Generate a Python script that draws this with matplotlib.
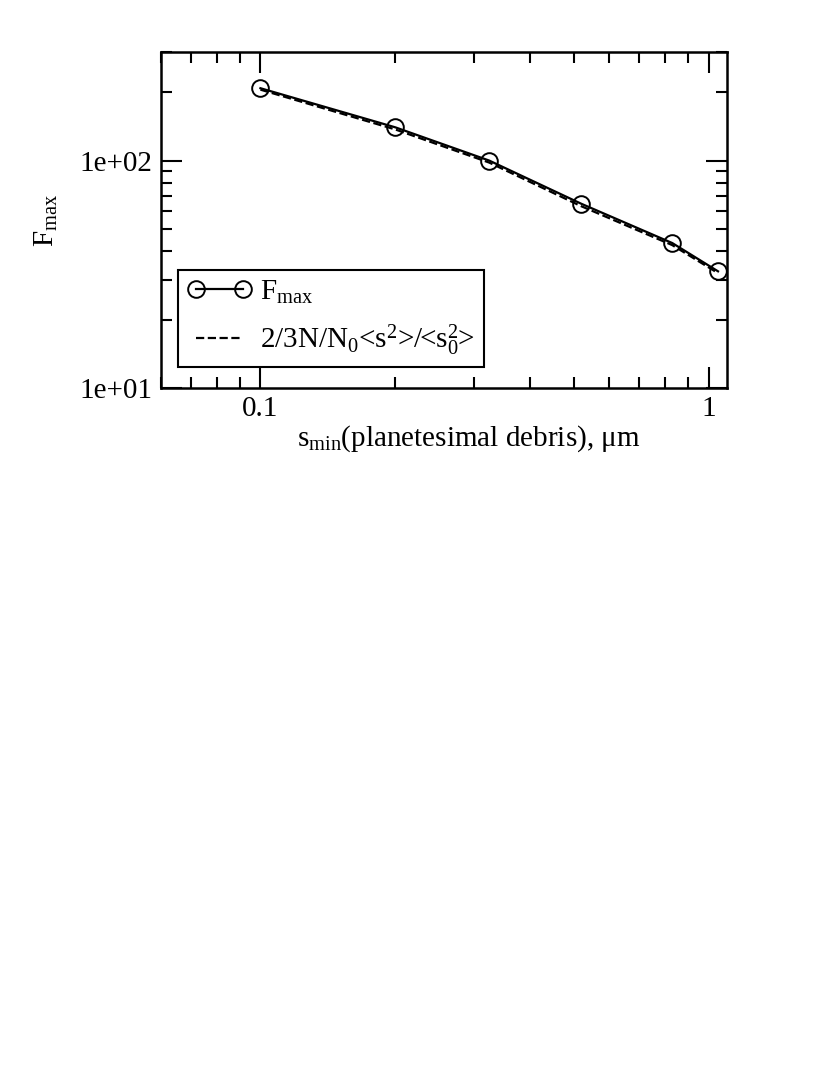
import matplotlib
matplotlib.use("Agg")
import matplotlib.pyplot as plt

plt.rcParams['font.family'] = ['Liberation Serif', 'DejaVu Serif']
plt.rcParams['mathtext.fontset'] = 'custom'
plt.rcParams['mathtext.rm'] = 'Liberation Serif'
plt.rcParams['mathtext.it'] = 'Liberation Serif:italic'

# data
s_min = [0.1, 0.2, 0.324, 0.52, 0.83, 1.05]
f_max = [208, 140, 100, 64.6, 43.4, 32.6]
f_est = [205, 137, 98, 63.0, 42.5, 32.0]

fig = plt.figure(figsize=(8.3, 10.75), dpi=100)
ax = fig.add_axes([0.194, 0.639, 0.682, 0.3126])

ax.plot(s_min, f_max, 'k-', lw=1.6, marker='o', ms=12, mfc='none', mec='k',
        mew=1.4, label=r'$\mathrm{F_{max}}$')
ax.plot(s_min, f_est, 'k--', lw=1.6,
        label=r'2/3N/N$_0$<s$^2$>/<s$_0^2$>')

ax.set_xscale('log')
ax.set_yscale('log')
ax.set_xlim(0.06, 1.1)
ax.set_ylim(10, 300)
ax.set_xticks([0.1, 1])
ax.set_xticklabels(['0.1', '1'])
ax.set_yticks([10, 100])
ax.set_yticklabels(['1e+01', '1e+02'])

ax.tick_params(which='both', direction='in', top=True, right=True,
               labelsize=21, width=1.5)
ax.tick_params(which='major', length=15, pad=6)
ax.tick_params(which='minor', length=8)
for sp in ax.spines.values():
    sp.set_linewidth(1.8)

ax.set_xlabel(r'$\mathrm{s_{min}}$(planetesimal debris), $\mathrm{\mu}$m', fontsize=21)
ax.xaxis.set_label_coords(0.544, -0.105)
ax.set_ylabel(r'$\mathrm{F_{max}}$', fontsize=21, labelpad=14)

leg = ax.legend(loc='lower left', bbox_to_anchor=(0.030, 0.0625), borderaxespad=0,
                fontsize=21, numpoints=2, handlelength=2.22, handletextpad=0.3,
                fancybox=False, framealpha=1, edgecolor='k',
                borderpad=0.3, labelspacing=0.58)
leg.get_frame().set_linewidth(1.5)

fig.savefig('out.png', dpi=100)
